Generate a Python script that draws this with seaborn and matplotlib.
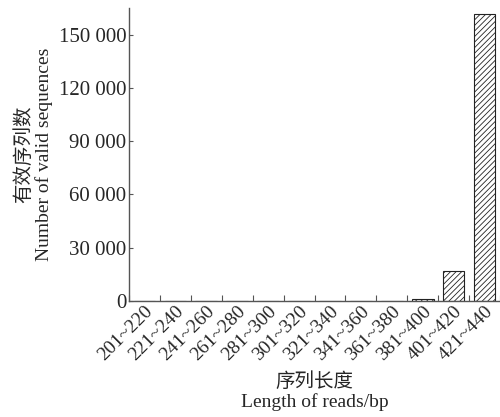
import numpy as np
import pandas as pd
import seaborn as sns
import matplotlib.pyplot as plt
from matplotlib.ticker import FuncFormatter

####

lengths = ['201~220', '221~240', '241~260', '261~280', '281~300', '301~320',
           '321~340', '341~360', '361~380', '381~400', '401~420', '421~440']
counts = [100, 80, 150, 100, 80, 80, 100, 200, 250, 1300, 16900, 161300]

df = pd.DataFrame({'length': lengths, 'count': counts})

sns.set_style('ticks')
plt.rcParams['font.family'] = ['Liberation Serif', 'Noto Sans CJK SC']
plt.rcParams['hatch.linewidth'] = 0.6

fig = plt.figure(figsize=(5, 4.17), dpi=100)
ax = fig.add_axes([0.258, 0.278, 0.742, 0.703])

sns.barplot(data=df, x='length', y='count', color='white', edgecolor='#222222',
            linewidth=0.8, width=0.7, hatch='//////', ax=ax)

ax.set_xlim(-0.5, 11.5)
ax.set_ylim(0, 165000)
ax.set_yticks([0, 30000, 60000, 90000, 120000, 150000])
ax.yaxis.set_major_formatter(FuncFormatter(lambda v, p: f'{int(v):,}'.replace(',', ' ')))

# ticks between the bars
ax.set_xticks(np.arange(-0.5, 12, 1), minor=True)
ax.tick_params(axis='x', which='major', length=0, labelsize=14, pad=1)
ax.tick_params(axis='x', which='minor', direction='in', length=4, width=0.8,
               color='#555555')
ax.tick_params(axis='y', direction='in', length=3, width=0.8, labelsize=15, pad=2,
               color='#555555')
ax.set_xticks(range(len(lengths)))
ax.set_xticklabels(lengths, rotation=45, ha='right', rotation_mode='anchor')

sns.despine(ax=ax)
for s in ['left', 'bottom']:
    ax.spines[s].set_linewidth(1.0)
    ax.spines[s].set_color('#555555')

ax.set_xlabel('序列长度\nLength of reads/bp', fontsize=14, labelpad=6, linespacing=1.15)
ax.set_ylabel('有效序列数\nNumber of valid sequences', fontsize=14, labelpad=4, linespacing=1.15)

fig.savefig('out.png', dpi=100)
